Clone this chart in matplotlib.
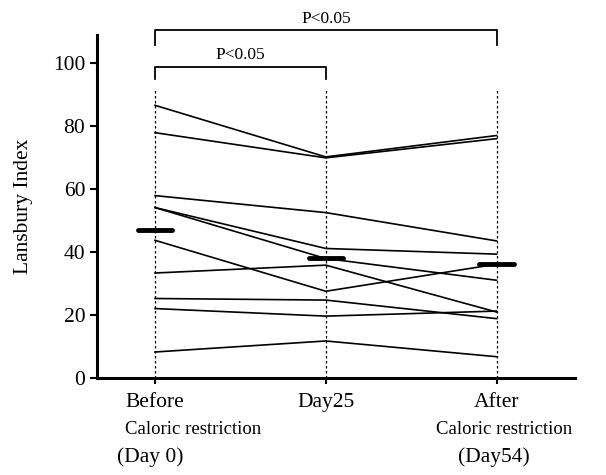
import matplotlib
matplotlib.use("Agg")
import matplotlib.pyplot as plt

# Lansbury index per patient: Before (Day 0), Day25, After (Day54)
groups = ["Before", "Day25", "After"]
before = [86.7, 78.0, 58.0, 54.2, 54.2, 43.8, 33.4, 25.3, 22.1, 8.3]
day25 = [70.3, 70.0, 52.6, 41.2, 38.0, 27.6, 35.9, 24.8, 19.7, 11.8]
after = [77.1, 76.1, 43.6, 39.4, 31.1, 36.2, 21.0, 18.9, 21.3, 6.8]
means = [47.2, 38.2, 36.3]

plt.rcParams['font.family'] = ['Liberation Serif', 'DejaVu Serif']

fig = plt.figure(figsize=(6.06, 4.75), dpi=100)
ax = fig.add_axes([0.160, 0.204, 0.789, 0.722])

xs = [0, 1, 2]

# dotted guide lines
for x in xs:
    ax.plot([x, x], [0, 92], color='black', linestyle=(0, (2, 2)), linewidth=0.9)

# individual patients
for b, d, a in zip(before, day25, after):
    ax.plot(xs, [b, d, a], color='black', linewidth=1.2)

# group means
for x, m in zip(xs, means):
    ax.plot([x - 0.1, x + 0.1], [m, m], color='black', linewidth=3.5,
            solid_capstyle='round')

# significance brackets
def bracket(x0, x1, y, drop, label, ly):
    ax.plot([x0, x0, x1, x1], [y - drop, y, y, y - drop], color='black',
            linewidth=1.3, clip_on=False)
    ax.text((x0 + x1) / 2, ly, label, ha='center', va='center', fontsize=12.5)

bracket(0, 2, 110.5, 4.5, "P<0.05", 114.0)
bracket(0, 1, 99.0, 4.0, "P<0.05", 102.8)

ax.set_xlim(-0.34, 2.46)
ax.set_ylim(0, 109)
ax.set_yticks([0, 20, 40, 60, 80, 100])
ax.set_xticks(xs)
ax.set_xticklabels(groups, fontsize=15.5)
ax.tick_params(axis='y', labelsize=15.5, length=5, width=1.5, direction='out')
ax.tick_params(axis='x', length=4, width=1.5, direction='out', pad=7)
ax.set_ylabel("Lansbury Index", fontsize=15.5, labelpad=14)

for s in ['top', 'right']:
    ax.spines[s].set_visible(False)
for s in ['left', 'bottom']:
    ax.spines[s].set_linewidth(2.2)

fig.text(125 / 606, 1 - 430 / 475, "Caloric restriction", fontsize=13.5,
         ha='left', va='center')
fig.text(436 / 606, 1 - 430 / 475, "Caloric restriction", fontsize=13.5,
         ha='left', va='center')
fig.text(150 / 606, 1 - 457 / 475, "(Day 0)", fontsize=15.5, ha='center', va='center')
fig.text(494 / 606, 1 - 457 / 475, "(Day54)", fontsize=15.5, ha='center', va='center')

fig.savefig("out.png", dpi=100)
